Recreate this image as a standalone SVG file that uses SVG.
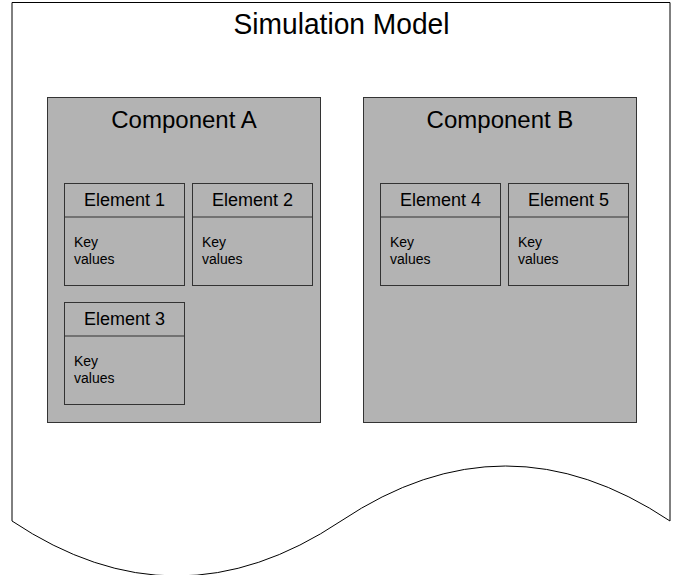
<svg xmlns="http://www.w3.org/2000/svg" width="673" height="575" viewBox="0 0 673 575">
<style>
text{font-family:"Liberation Sans",Arial,sans-serif;fill:#000}
.comp{fill:#b3b3b3;stroke:#333;stroke-width:1}
.el{fill:#b3b3b3;stroke:#333;stroke-width:1}
.hdr{stroke:#333;stroke-width:1.2}
.ct{font-size:24px;text-anchor:middle}
.et{font-size:18px;text-anchor:middle}
.kv{font-size:14px}
</style>
<g id="simulation-model">
<path d="M12,2.5 H670 V521 Q505.5,411 341,521 Q176.5,631 12,521 Z" fill="#fff" stroke="#000" stroke-width="1"/>
<text x="341.5" y="34" font-size="30" text-anchor="middle" textLength="216" lengthAdjust="spacingAndGlyphs">Simulation Model</text>
</g>
<g id="component-a">
<rect class="comp" x="47.5" y="97.5" width="273" height="325"/>
<text class="ct" x="184" y="128">Component A</text>
</g>
<g id="component-b">
<rect class="comp" x="363.5" y="97.5" width="273" height="325"/>
<text class="ct" x="500" y="128">Component B</text>
</g>
<g id="element-1">
<rect class="el" x="64.5" y="183.5" width="120" height="102"/>
<line class="hdr" x1="64.5" y1="217" x2="184.5" y2="217"/>
<text class="et" x="124.5" y="206">Element 1</text>
<text class="kv" x="74" y="247">Key</text>
<text class="kv" x="74" y="264">values</text>
</g>
<g id="element-2">
<rect class="el" x="192.5" y="183.5" width="120" height="102"/>
<line class="hdr" x1="192.5" y1="217" x2="312.5" y2="217"/>
<text class="et" x="252.5" y="206">Element 2</text>
<text class="kv" x="202" y="247">Key</text>
<text class="kv" x="202" y="264">values</text>
</g>
<g id="element-3">
<rect class="el" x="64.5" y="302.5" width="120" height="102"/>
<line class="hdr" x1="64.5" y1="336" x2="184.5" y2="336"/>
<text class="et" x="124.5" y="325">Element 3</text>
<text class="kv" x="74" y="366">Key</text>
<text class="kv" x="74" y="383">values</text>
</g>
<g id="element-4">
<rect class="el" x="380.5" y="183.5" width="120" height="102"/>
<line class="hdr" x1="380.5" y1="217" x2="500.5" y2="217"/>
<text class="et" x="440.5" y="206">Element 4</text>
<text class="kv" x="390" y="247">Key</text>
<text class="kv" x="390" y="264">values</text>
</g>
<g id="element-5">
<rect class="el" x="508.5" y="183.5" width="120" height="102"/>
<line class="hdr" x1="508.5" y1="217" x2="628.5" y2="217"/>
<text class="et" x="568.5" y="206">Element 5</text>
<text class="kv" x="518" y="247">Key</text>
<text class="kv" x="518" y="264">values</text>
</g>
<g id="connectors"></g>
</svg>
